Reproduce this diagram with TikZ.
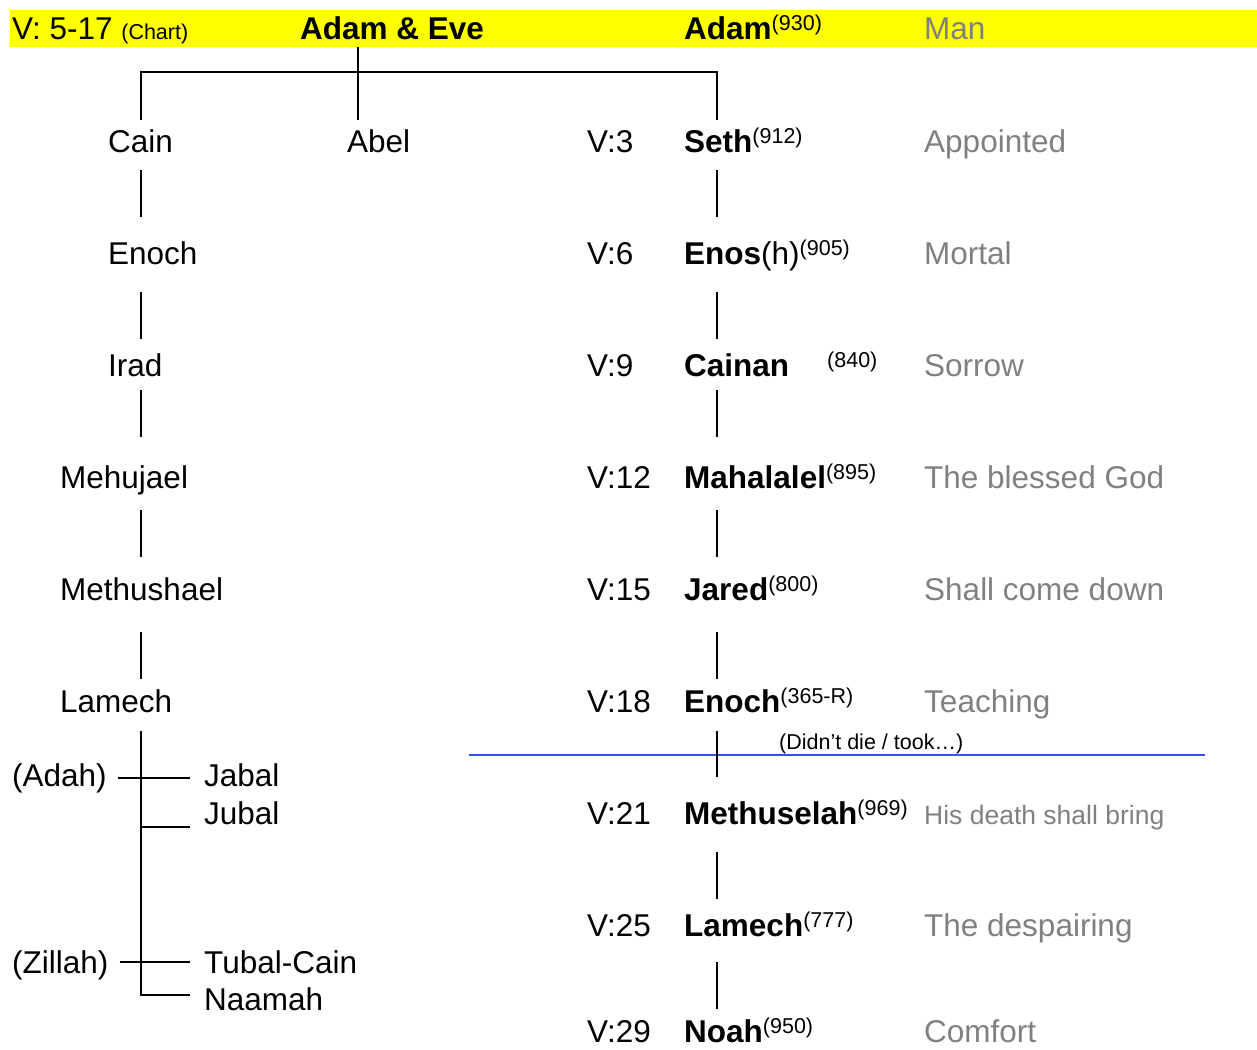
\documentclass[tikz,border=0pt]{standalone}
\usepackage{fontspec}
\setmainfont{Liberation Sans}
\usetikzlibrary{calc}

\definecolor{bargold}{RGB}{255,255,0}
\definecolor{meangray}{RGB}{128,128,128}
\definecolor{floodblue}{RGB}{51,85,230}

\newcommand{\bodyfont}{\fontsize{31.5}{36}\selectfont}
\newcommand{\smallbody}{\fontsize{26.5}{30}\selectfont}
\newcommand{\notefont}{\fontsize{21.5}{24}\selectfont}
\newcommand{\lifespan}[1]{\raisebox{9pt}{\notefont\mdseries #1}}

\tikzset{
  person/.style={anchor=base west, inner sep=0pt, text height=23pt, text depth=7pt, font=\bodyfont},
  heir/.style={person, font=\bodyfont\bfseries},
  meaning/.style={person, text=meangray},
  remark/.style={anchor=base west, inner sep=0pt, font=\notefont},
  link/.style={black, line width=2pt},
}

\begin{document}
\begin{tikzpicture}[x=1pt, y=-1pt]
\useasboundingbox (0,0) rectangle (1257,1049);

% header
\fill[bargold] (10,10) rectangle (1257,47);
\node[person] (chart) at (12,40) {V: 5-17 {\notefont (Chart)}};
\node[heir] (adameve) at (300,40) {Adam \& Eve};
\node[heir] (adam) at (684,40) {Adam\lifespan{(930)}};
\node[meaning] (man) at (924,40) {Man};

\coordinate (spineL) at (141,0);
\coordinate (spineR) at (717,0);
\coordinate (fork) at (358,72);

% line of Cain
\node[person] (cain) at (108,152) {Cain};
\node[person] (abel) at (347,152) {Abel};
\node[person] (enochL) at (108,264) {Enoch};
\node[person] (irad) at (108,376) {Irad};
\node[person] (mehujael) at (60,488) {Mehujael};
\node[person] (methushael) at (60,600) {Methushael};
\node[person] (lamechL) at (60,712) {Lamech};
\node[person] (adah) at (12,786) {(Adah)};
\node[person] (jabal) at (204,786) {Jabal};
\node[person] (jubal) at (204,824) {Jubal};
\node[person] (zillah) at (12,973) {(Zillah)};
\node[person] (tubal) at (204,973) {Tubal-Cain};
\node[person] (naamah) at (204,1010) {Naamah};

% line of Seth
\node[person] (v3) at (587,152) {V:3};
\node[heir] (seth) at (684,152) {Seth\lifespan{(912)}};
\node[meaning] (appointed) at (924,152) {Appointed};

\node[person] (v6) at (587,264) {V:6};
\node[heir] (enos) at (684,264) {Enos\textmd{(h)}\lifespan{(905)}};
\node[meaning] (mortal) at (924,264) {Mortal};

\node[person] (v9) at (587,376) {V:9};
\node[heir] (cainan) at (684,376) {Cainan};
\node[remark] (cainanage) at (827,367) {(840)};
\node[meaning] (sorrow) at (924,376) {Sorrow};

\node[person] (v12) at (587,488) {V:12};
\node[heir] (mahalalel) at (684,488) {Mahalalel\lifespan{(895)}};
\node[meaning] (blessed) at (924,488) {The blessed God};

\node[person] (v15) at (587,600) {V:15};
\node[heir] (jared) at (684,600) {Jared\lifespan{(800)}};
\node[meaning] (comedown) at (924,600) {Shall come down};

\node[person] (v18) at (587,712) {V:18};
\node[heir] (enochR) at (684,712) {Enoch\lifespan{(365-R)}};
\node[meaning] (teaching) at (924,712) {Teaching};
\node[remark] (took) at (779,749) {(Didn’t die / took…)};

\node[person] (v21) at (587,824) {V:21};
\node[heir] (methuselah) at (684,824) {Methuselah\lifespan{(969)}};
\node[meaning, font=\smallbody] (deathbring) at (924,824) {His death shall bring};

\node[person] (v25) at (587,936) {V:25};
\node[heir] (lamechR) at (684,936) {Lamech\lifespan{(777)}};
\node[meaning] (despairing) at (924,936) {The despairing};

\node[person] (v29) at (587,1042) {V:29};
\node[heir] (noah) at (684,1042) {Noah\lifespan{(950)}};
\node[meaning] (comfort) at (924,1042) {Comfort};

% flood divider
\draw[floodblue, line width=1.5pt] (469,755) -- (1205,755);

% Adam & Eve to sons
\draw[link, shorten >=9pt] (adameve.south -| fork) -- (abel.north -| fork);
\draw[link, shorten <=9pt, shorten >=9pt] (cain.north -| spineL) |- (fork) -| (seth.north -| spineR);

% Cain's descent
\draw[link, shorten <=11pt, shorten >=24pt] (cain.south -| spineL) -- (enochL.north -| spineL);
\draw[link, shorten <=21pt, shorten >=14pt] (enochL.south -| spineL) -- (irad.north -| spineL);
\draw[link, shorten <=7pt, shorten >=28pt] (irad.south -| spineL) -- (mehujael.north -| spineL);
\draw[link, shorten <=15pt, shorten >=20pt] (mehujael.south -| spineL) -- (methushael.north -| spineL);
\draw[link, shorten <=25pt, shorten >=10pt] (methushael.south -| spineL) -- (lamechL.north -| spineL);

% Lamech's children
\draw[link, shorten <=12pt, shorten >=14pt] (lamechL.south -| spineL) -- ($(naamah.west -| spineL)+(0,-7)$) -- ($(naamah.west)+(0,-7)$);
\draw[link, shorten <=11pt, shorten >=14pt] (adah.east) -- (jabal.west);
\draw[link, shorten >=14pt] ($(jubal.west -| spineL)+(0,11)$) -- ($(jubal.west)+(0,11)$);
\draw[link, shorten <=11pt, shorten >=14pt] ($(zillah.east)+(0,-3)$) -- ($(tubal.west)+(0,-3)$);

% Seth's descent
\draw[link, shorten <=11pt, shorten >=24pt] (seth.south -| spineR) -- (enos.north -| spineR);
\draw[link, shorten <=21pt, shorten >=14pt] (enos.south -| spineR) -- (cainan.north -| spineR);
\draw[link, shorten <=7pt, shorten >=28pt] (cainan.south -| spineR) -- (mahalalel.north -| spineR);
\draw[link, shorten <=15pt, shorten >=20pt] (mahalalel.south -| spineR) -- (jared.north -| spineR);
\draw[link, shorten <=25pt, shorten >=10pt] (jared.south -| spineR) -- (enochR.north -| spineR);
\draw[link, shorten <=12pt, shorten >=24pt] (enochR.south -| spineR) -- (methuselah.north -| spineR);
\draw[link, shorten <=21pt, shorten >=14pt] (methuselah.south -| spineR) -- (lamechR.north -| spineR);
\draw[link, shorten <=19pt, shorten >=10pt] (lamechR.south -| spineR) -- (noah.north -| spineR);
\end{tikzpicture}
\end{document}
